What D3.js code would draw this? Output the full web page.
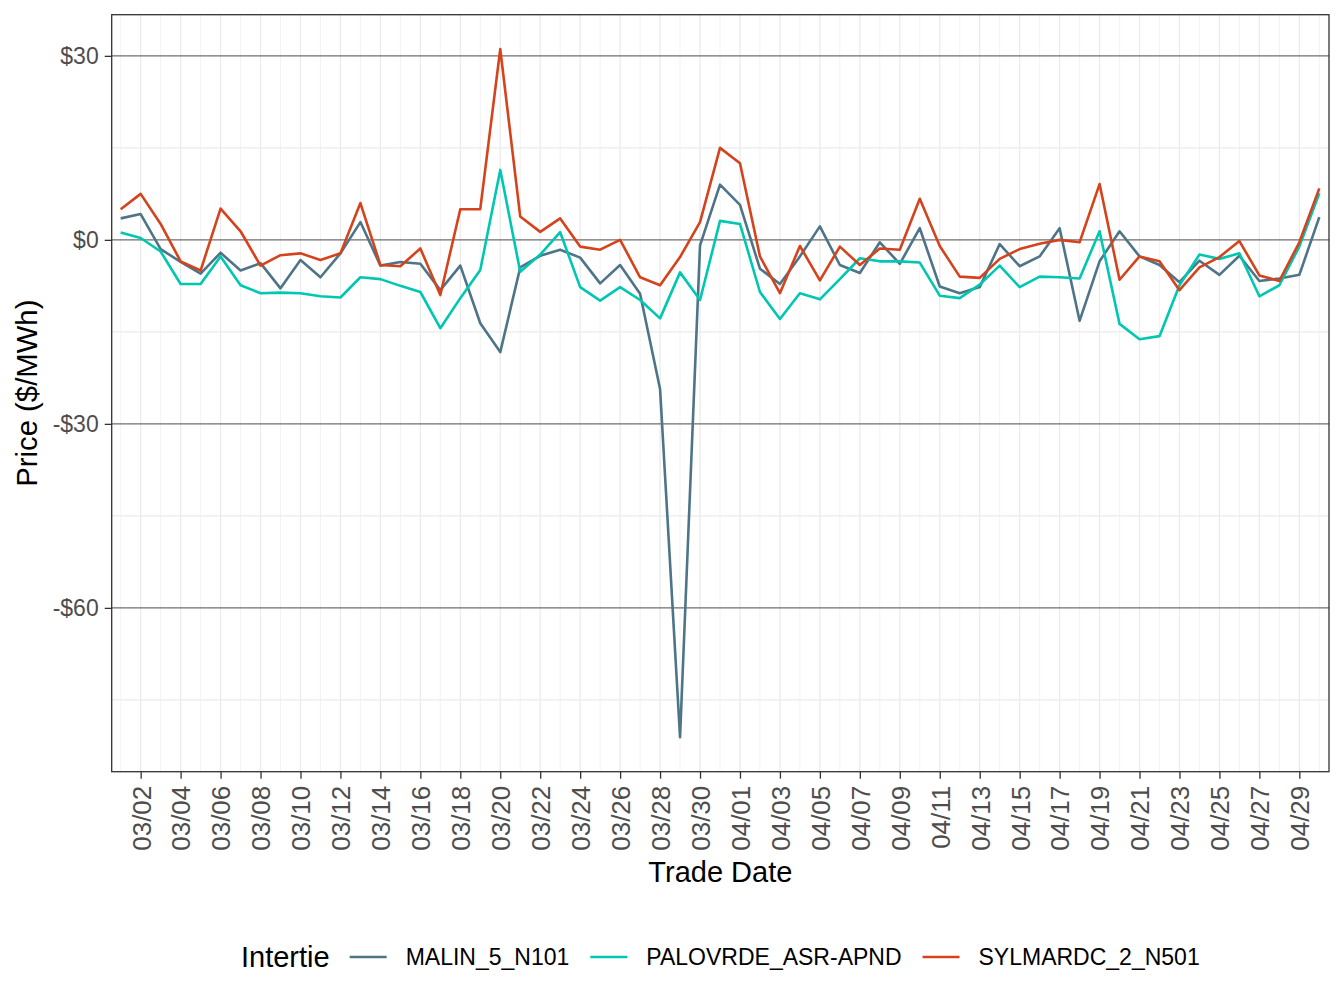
<!DOCTYPE html>
<html>
<head>
<meta charset="utf-8">
<script src="https://cdn.jsdelivr.net/npm/d3@7"></script>
<style>
  body { margin: 0; background: #fff; }
  svg { display: block; font-family: "Liberation Sans", Arial, sans-serif; }
</style>
</head>
<body>
<svg width="1344" height="1008"></svg>
<script>
// trade dates (year is not shown on the chart)
const dates = [
  "03/01","03/02","03/03","03/04","03/05","03/06","03/07","03/08","03/09","03/10",
  "03/11","03/12","03/13","03/14","03/15","03/16","03/17","03/18","03/19","03/20",
  "03/21","03/22","03/23","03/24","03/25","03/26","03/27","03/28","03/29","03/30",
  "03/31","04/01","04/02","04/03","04/04","04/05","04/06","04/07","04/08","04/09",
  "04/10","04/11","04/12","04/13","04/14","04/15","04/16","04/17","04/18","04/19",
  "04/20","04/21","04/22","04/23","04/24","04/25","04/26","04/27","04/28","04/29",
  "04/30"
];

const malin = [
  3.5, 4.2, -1.5, -3.6, -5.5, -2.1, -5.0, -3.8, -7.9, -3.3,
  -6.1, -2.2, 2.9, -4.2, -3.6, -3.9, -8.2, -4.2, -13.6, -18.3,
  -4.5, -2.6, -1.6, -2.9, -7.1, -4.1, -8.8, -24.3, -81.1, -0.9,
  9.0, 5.7, -4.7, -7.2, -2.7, 2.2, -4.1, -5.4, -0.4, -3.9,
  1.9, -7.6, -8.7, -7.7, -0.7, -4.3, -2.7, 1.9, -13.2, -3.5,
  1.4, -2.7, -4.1, -6.9, -3.4, -5.7, -2.6, -6.7, -6.3, -5.7,
  3.7
];

const palovrde = [
  1.2, 0.3, -1.9, -7.2, -7.2, -2.7, -7.4, -8.7, -8.6, -8.7,
  -9.2, -9.4, -6.1, -6.4, -7.5, -8.5, -14.4, -9.5, -4.9, 11.4,
  -5.2, -2.4, 1.25, -7.7, -9.9, -7.7, -9.8, -12.8, -5.3, -9.8,
  3.1, 2.6, -8.5, -12.9, -8.7, -9.7, -6.4, -3.0, -3.5, -3.5,
  -3.7, -9.1, -9.5, -7.3, -4.2, -7.7, -6.0, -6.1, -6.3, 1.4,
  -13.7, -16.2, -15.7, -7.4, -2.4, -3.1, -2.2, -9.2, -7.4, -1.1,
  7.6
];

const sylmar = [
  5.0, 7.5, 2.6, -3.5, -5.0, 5.1, 1.4, -4.2, -2.5, -2.2,
  -3.3, -2.2, 6.0, -4.1, -4.3, -1.4, -9.0, 5.0, 5.0, 31.1,
  3.8, 1.3, 3.5, -1.1, -1.6, 0.0, -6.1, -7.4, -2.8, 2.9,
  15.0, 12.5, -2.7, -8.7, -1.0, -6.6, -1.1, -4.1, -1.4, -1.6,
  6.7, -1.0, -6.0, -6.2, -3.1, -1.5, -0.65, 0.0, -0.4, 9.1,
  -6.5, -2.7, -3.5, -8.2, -4.5, -2.8, -0.2, -5.8, -6.7, -0.4,
  8.4
];

const seriesNames = ["MALIN_5_N101", "PALOVRDE_ASR-APND", "SYLMARDC_2_N501"];
const seriesColors = ["#4e7488", "#00c7b2", "#d4431c"];
const yTicks = [-60, -30, 0, 30];
const yMinor = [-75, -45, -15, 15];

const parseDate = d3.utcParse("%Y/%m/%d");
const days = dates.map(d => parseDate("2023/" + d));
const series = [malin, palovrde, sylmar].map((vals, i) => ({
  name: seriesNames[i],
  color: seriesColors[i],
  points: vals.map((v, j) => ({ date: days[j], value: v }))
}));

const svg = d3.select("svg");

const panel = { left: 111.7, right: 1329, top: 14.7, bottom: 771.7 };

const dayMs = 86400000;
// prettier-ignore
const x = d3.scaleUtc()
    .domain([+days[0] - 0.45 * dayMs, +days[days.length - 1] + 0.485 * dayMs])
    .range([panel.left, panel.right]);

const allVals = malin.concat(palovrde, sylmar);
const yMin = d3.min(allVals), yMax = d3.max(allVals);
const pad = (yMax - yMin) * 0.05;
// prettier-ignore
const y = d3.scaleLinear()
    .domain([yMin - pad, yMax + pad])
    .range([panel.bottom, panel.top]);

const majorDays = d3.utcDay.range(days[1], +days[60] + dayMs, 2);
const minorDays = d3.utcDay.range(days[0], +days[60] + dayMs, 2);

const grid = svg.append("g");

grid.selectAll("line.vminor")
  .data(minorDays)
  .enter()
  .append("line")
  .attr("x1", d => x(d)).attr("x2", d => x(d))
  .attr("y1", panel.top).attr("y2", panel.bottom)
  .style("stroke", "#f0f0f0")
  .style("stroke-width", 0.8);

grid.selectAll("line.hminor")
  .data(yMinor)
  .enter()
  .append("line")
  .attr("x1", panel.left).attr("x2", panel.right)
  .attr("y1", d => y(d)).attr("y2", d => y(d))
  .style("stroke", "#ebebeb")
  .style("stroke-width", 1.2);

grid.selectAll("line.vmajor")
  .data(majorDays)
  .enter()
  .append("line")
  .attr("x1", d => x(d)).attr("x2", d => x(d))
  .attr("y1", panel.top).attr("y2", panel.bottom)
  .style("stroke", "#ebebeb")
  .style("stroke-width", 1.3);

grid.selectAll("line.hmajor")
  .data(yTicks)
  .enter()
  .append("line")
  .attr("x1", panel.left).attr("x2", panel.right)
  .attr("y1", d => y(d)).attr("y2", d => y(d))
  .style("stroke", "#6e6e6e")
  .style("stroke-width", 1.1);

// prettier-ignore
const line = d3.line()
    .x(d => x(d.date))
    .y(d => y(d.value));

svg.append("g")
  .selectAll("path")
  .data(series)
  .enter()
  .append("path")
  .attr("d", d => line(d.points))
  .style("fill", "none")
  .style("stroke", d => d.color)
  .style("stroke-width", 2.6)
  .style("stroke-linejoin", "round");

svg.append("rect")
  .attr("x", panel.left).attr("y", panel.top)
  .attr("width", panel.right - panel.left)
  .attr("height", panel.bottom - panel.top)
  .style("fill", "none")
  .style("stroke", "#333333")
  .style("stroke-width", 1.3);

// y axis
const fmtMoney = v => (v < 0 ? "-$" : "$") + Math.abs(v);
// prettier-ignore
const yAxis = d3.axisLeft(y)
    .tickValues(yTicks)
    .tickFormat(fmtMoney)
    .tickSize(7)
    .tickPadding(6);

svg.append("g")
  .attr("transform", `translate(${panel.left},0)`)
  .call(yAxis)
  .call(g => g.select(".domain").remove())
  .call(g => g.selectAll(".tick line").style("stroke", "#333333").style("stroke-width", 1.3))
  .call(g => g.selectAll(".tick text")
    .style("font-family", "Liberation Sans, Arial, sans-serif")
    .style("font-size", "23px")
    .style("fill", "#4d4d4d"));

// x axis
const fmtDay = d3.utcFormat("%m/%d");
// prettier-ignore
const xAxis = d3.axisBottom(x)
    .tickValues(majorDays)
    .tickFormat(fmtDay)
    .tickSize(7);

svg.append("g")
  .attr("transform", `translate(0,${panel.bottom})`)
  .call(xAxis)
  .call(g => g.select(".domain").remove())
  .call(g => g.selectAll(".tick line").style("stroke", "#333333").style("stroke-width", 1.3))
  .call(g => g.selectAll(".tick text")
    .attr("transform", "rotate(-90)")
    .attr("x", -14)
    .attr("y", 0)
    .attr("dy", "0.36em")
    .style("text-anchor", "end")
    .style("font-family", "Liberation Sans, Arial, sans-serif")
    .style("font-size", "26px")
    .style("fill", "#4d4d4d"));

// axis titles
svg.append("text")
  .attr("x", (panel.left + panel.right) / 2)
  .attr("y", 882)
  .attr("text-anchor", "middle")
  .style("font-size", "29px")
  .style("fill", "#000")
  .text("Trade Date");

svg.append("text")
  .attr("transform", `translate(37,${(panel.top + panel.bottom) / 2}) rotate(-90)`)
  .attr("text-anchor", "middle")
  .style("font-size", "29.3px")
  .style("fill", "#000")
  .text("Price ($/MWh)");

// legend
const legend = svg.append("g");
const legendY = 957;
const title = legend.append("text")
  .attr("y", legendY)
  .attr("dy", "0.36em")
  .style("font-size", "29px")
  .text("Intertie");

let cursor = title.node().getComputedTextLength() + 20;
series.forEach((s, i) => {
  const keyX = cursor;
  legend.append("line")
    .attr("x1", keyX).attr("x2", keyX + 37)
    .attr("y1", legendY).attr("y2", legendY)
    .style("stroke", s.color)
    .style("stroke-width", 2.6);
  const label = legend.append("text")
    .attr("x", keyX + 56)
    .attr("y", legendY)
    .attr("dy", "0.36em")
    .style("font-size", "23px")
    .text(s.name);
  cursor = keyX + 56 + label.node().getComputedTextLength();
  if (i < series.length - 1) cursor += 21;
});
const legendCenter = (panel.left + panel.right) / 2;
legend.attr("transform", `translate(${legendCenter - cursor / 2},0)`);
</script>
</body>
</html>
